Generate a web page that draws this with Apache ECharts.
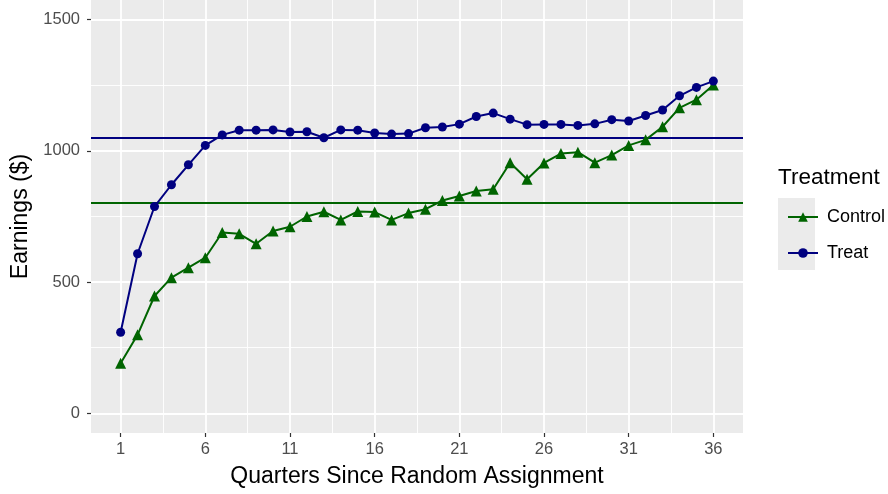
<!DOCTYPE html>
<html>
<head>
<meta charset="utf-8">
<script src="https://cdn.jsdelivr.net/npm/echarts@6/dist/echarts.min.js"></script>
<style>
  html, body { margin: 0; padding: 0; background: #fff; }
  #chart { width: 888px; height: 494px; }
</style>
</head>
<body>
<div id="chart"></div>
<script>
var quarters = [1, 2, 3, 4, 5, 6, 7, 8, 9, 10, 11, 12, 13, 14, 15, 16, 17, 18,
  19, 20, 21, 22, 23, 24, 25, 26, 27, 28, 29, 30, 31, 32, 33, 34, 35, 36];
var treatEarnings = [309, 608, 788, 871, 947, 1021, 1061, 1079, 1079, 1080, 1072, 1073,
  1050, 1080, 1079, 1068, 1064, 1066, 1088, 1091, 1102, 1131, 1144, 1121,
  1100, 1101, 1101, 1097, 1103, 1119, 1114, 1135, 1156, 1210, 1242, 1266];
var controlEarnings = [191, 299, 447, 517, 555, 593, 689, 684, 646, 695, 711, 750,
  768, 737, 769, 767, 737, 763, 778, 811, 828, 847, 854, 955,
  892, 954, 990, 995, 955, 984, 1021, 1042, 1092, 1164, 1195, 1251];
var treatMean = 1050;
var controlMean = 801;
var xTicks = [1, 6, 11, 16, 21, 26, 31, 36];
var xMinor = [3.5, 8.5, 13.5, 18.5, 23.5, 28.5, 33.5];
var yTicks = [0, 500, 1000, 1500];
var yMinor = [250, 750, 1250];

var treatColor = '#000080';
var controlColor = '#006400';
var font = 'Liberation Sans, Arial, sans-serif';

function pairs(xs, ys) {
  var out = [];
  for (var i = 0; i < xs.length; i++) out.push([xs[i], ys[i]]);
  return out;
}

function gridLines(xs, ys) {
  var d = [];
  xs.forEach(function (v) { d.push({ xAxis: v }); });
  ys.forEach(function (v) { d.push({ yAxis: v }); });
  return d;
}

var chart = echarts.init(document.getElementById('chart'), null, { renderer: 'canvas' });

var option = {
  animation: false,
  textStyle: { fontFamily: font },
  grid: {
    left: 91, right: 145, top: 0, bottom: 61,
    show: true, backgroundColor: '#EBEBEB', borderWidth: 0
  },
  xAxis: {
    type: 'value',
    min: -0.75, max: 37.75,
    z: 5,
    name: 'Quarters Since Random Assignment',
    nameLocation: 'middle',
    nameGap: 32,
    nameTextStyle: { color: '#000', fontSize: 23, fontFamily: font },
    axisLine: { show: false, onZero: false },
    splitLine: { show: false },
    axisTick: { show: true, length: 4, customValues: xTicks, lineStyle: { color: '#333333', width: 1.2 } },
    axisLabel: { customValues: xTicks, color: '#4D4D4D', fontSize: 16.5, margin: 8, fontFamily: font }
  },
  yAxis: {
    type: 'value',
    min: -75, max: 1575,
    z: 5,
    name: 'Earnings ($)',
    nameLocation: 'middle',
    nameGap: 51,
    nameRotate: 90,
    nameTextStyle: { color: '#000', fontSize: 23, fontFamily: font },
    axisLine: { show: false, onZero: false },
    splitLine: { show: false },
    axisTick: { show: true, length: 4, customValues: yTicks, lineStyle: { color: '#333333', width: 1.2 } },
    axisLabel: {
      customValues: yTicks, color: '#4D4D4D', fontSize: 16.5, margin: 11, fontFamily: font,
      formatter: function (v) { return String(v); }
    }
  },
  legend: {
    data: ['Control', 'Treat'],
    orient: 'vertical',
    left: 782, top: 203,
    itemWidth: 30, itemHeight: 12,
    itemGap: 18,
    textStyle: { color: '#000', fontSize: 18, fontFamily: font, padding: [0, 0, 0, 4] }
  },
  graphic: [
    { type: 'rect', left: 778, top: 198, shape: { width: 37, height: 72 }, style: { fill: '#EBEBEB' }, z: -1 },
    { type: 'text', left: 778, top: 166, style: { text: 'Treatment', fill: '#000', fontSize: 22.5, fontFamily: font } }
  ],
  series: [
    {
      name: 'minor grid', type: 'line', data: [], silent: true, z: 0, zlevel: 0,
      markLine: {
        silent: true, symbol: 'none', label: { show: false },
        lineStyle: { color: '#FFFFFF', width: 0.9, type: 'solid' },
        data: gridLines(xMinor, yMinor)
      }
    },
    {
      name: 'major grid', type: 'line', data: [], silent: true, z: 0, zlevel: 0,
      markLine: {
        silent: true, symbol: 'none', label: { show: false },
        lineStyle: { color: '#FFFFFF', width: 1.8, type: 'solid' },
        data: gridLines(xTicks, yTicks)
      }
    },
    {
      name: 'Control', type: 'line', z: 3, zlevel: 1,
      data: pairs(quarters, controlEarnings),
      symbol: 'triangle', symbolSize: 11,
      color: controlColor,
      lineStyle: { color: controlColor, width: 2 },
      itemStyle: { color: controlColor },
      markLine: {
        silent: true, symbol: 'none', label: { show: false },
        lineStyle: { color: controlColor, width: 1.9, type: 'solid' },
        data: [{ yAxis: controlMean }]
      }
    },
    {
      name: 'Treat', type: 'line', z: 3, zlevel: 1,
      data: pairs(quarters, treatEarnings),
      symbol: 'circle', symbolSize: 9,
      color: treatColor,
      lineStyle: { color: treatColor, width: 2 },
      itemStyle: { color: treatColor },
      markLine: {
        silent: true, symbol: 'none', label: { show: false },
        lineStyle: { color: treatColor, width: 1.9, type: 'solid' },
        data: [{ yAxis: treatMean }]
      }
    }
  ]
};
chart.setOption(option);
</script>
</body>
</html>
